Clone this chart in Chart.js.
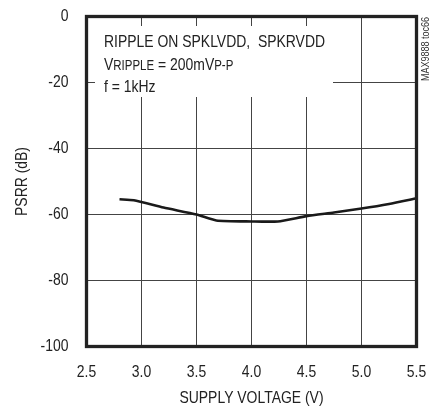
<!DOCTYPE html>
<html><head><meta charset="utf-8">
<script src="https://cdn.jsdelivr.net/npm/chart.js@4/dist/chart.umd.min.js"></script>
<style>html,body{margin:0;padding:0;background:#fff}#wrap{width:438px;height:407px}</style>
</head><body><div id="wrap"><canvas id="c" width="438" height="407"></canvas></div>
<script>
const FONT = "'Liberation Sans',Arial,sans-serif";
const SQUEEZE = 0.82; // emulate a narrow (condensed) face
const supplyVoltage = [2.8, 2.93, 3.2, 3.5, 3.68, 4.0, 4.24, 4.5, 4.75, 5.0, 5.25, 5.5];
const psrr = [-55.4, -55.7, -57.9, -60.0, -61.8, -62.1, -62.1, -60.5, -59.4, -58.2, -56.8, -55.1];
const xTicks = [2.5, 3.0, 3.5, 4.0, 4.5, 5.0, 5.5];
const yTicks = [0, -20, -40, -60, -80, -100];
const noteLine1 = "RIPPLE ON SPKLVDD,  SPKRVDD";
const noteLine3 = "f = 1kHz";
const tocLabel = "MAX9888 toc66";

// condense all canvas text horizontally (still real text)
const _fillText = CanvasRenderingContext2D.prototype.fillText;
CanvasRenderingContext2D.prototype.fillText = function (t, x, y, mw) {
  const w = this.measureText(t).width * SQUEEZE;
  return _fillText.call(this, t, x, y, mw !== undefined ? Math.min(mw, w) : w);
};

const overlay = {
  id: 'overlay',
  beforeDatasetsDraw(chart) {
    const ctx = chart.ctx;
    ctx.save();
    ctx.fillStyle = '#fff';
    ctx.fillRect(95, 26, 238, 71);
    ctx.fillStyle = '#222';
    ctx.textBaseline = 'alphabetic';
    ctx.textAlign = 'left';
    const big = '17px ' + FONT, small = '14px ' + FONT;
    ctx.font = big;
    ctx.fillText(noteLine1, 104, 47);
    let x = 104;
    const parts = [['V', big], ['RIPPLE', small], [' = 200mV', big], ['P-P', small]];
    for (const [t, f] of parts) { ctx.font = f; ctx.fillText(t, x, 70); x += ctx.measureText(t).width * SQUEEZE; }
    ctx.font = big;
    ctx.fillText(noteLine3, 104, 92);
    ctx.restore();
  },
  afterDraw(chart) {
    const ctx = chart.ctx, a = chart.chartArea;
    ctx.save();
    ctx.strokeStyle = '#222';
    ctx.lineWidth = 3.3;
    ctx.strokeRect(a.left, a.top, a.right - a.left, a.bottom - a.top);
    ctx.translate(425.5, 49);
    ctx.rotate(-Math.PI / 2);
    ctx.font = '11px ' + FONT;
    ctx.fillStyle = '#333';
    ctx.textAlign = 'center';
    ctx.textBaseline = 'middle';
    ctx.fillText(tocLabel, 0, 0);
    ctx.restore();
  }
};

new Chart(document.getElementById('c'), {
  type: 'line',
  data: {
    datasets: [{
      data: supplyVoltage.map((v, i) => ({x: v, y: psrr[i]})),
      borderColor: '#1a1a1a',
      borderWidth: 2.6,
      pointRadius: 0,
      tension: 0.2,
      fill: false
    }]
  },
  options: {
    responsive: false,
    animation: false,
    devicePixelRatio: 1,
    layout: {padding: {top: 16.5, right: 21.5, left: 0, bottom: 0}},
    plugins: {legend: {display: false}, tooltip: {enabled: false}},
    scales: {
      x: {
        type: 'linear', min: 2.5, max: 5.5,
        afterBuildTicks: s => { s.ticks = xTicks.map(v => ({value: v})); },
        afterFit: s => { s.height = 60.5; s.paddingLeft = 0; s.paddingRight = 0; },
        grid: {color: '#444', lineWidth: 1, drawTicks: false},
        border: {display: false},
        ticks: {color: '#222', font: {family: FONT, size: 17}, padding: 16, callback: v => v.toFixed(1), maxRotation: 0},
        title: {display: true, text: 'SUPPLY VOLTAGE (V)', color: '#222', font: {family: FONT, size: 17, lineHeight: 1}, padding: {top: 0, bottom: 0}}
      },
      y: {
        type: 'linear', min: -100, max: 0,
        afterBuildTicks: s => { s.ticks = yTicks.map(v => ({value: v})); },
        afterFit: s => { s.width = 86.5; s.paddingTop = 0; s.paddingBottom = 0; },
        grid: {color: '#444', lineWidth: 1, drawTicks: false},
        border: {display: false},
        ticks: {color: '#222', font: {family: FONT, size: 17}, padding: 18},
        title: {display: true, text: 'PSRR (dB)', color: '#222', font: {family: FONT, size: 17, lineHeight: 1}, padding: {top: 14, bottom: 0}}
      }
    }
  },
  plugins: [overlay]
});
</script></body></html>
